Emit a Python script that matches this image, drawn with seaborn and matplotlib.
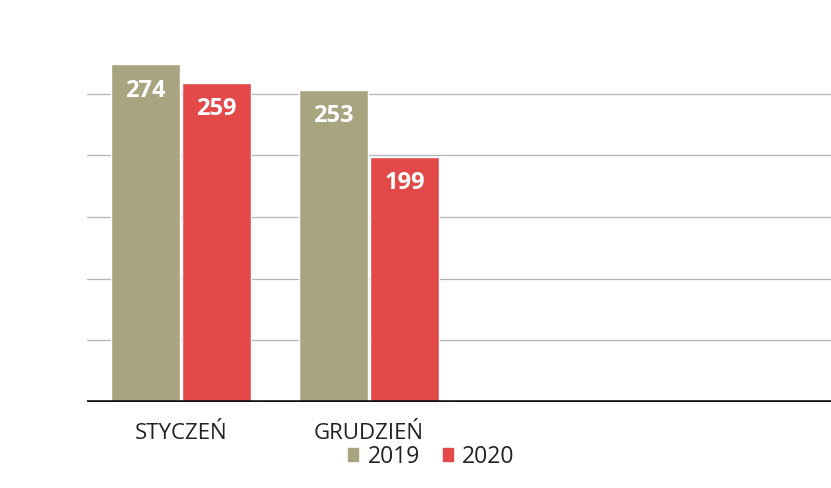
import pandas as pd
import matplotlib.pyplot as plt
import seaborn as sns
from matplotlib.patches import Patch

# Data
months = ["STYCZEŃ", "GRUDZIEŃ"]
years = ["2019", "2020"]
values_2019 = [274, 253]
values_2020 = [259, 199]
grid_levels = [50, 100, 150, 200, 250]

colors = {"2019": "#a8a47f", "2020": "#e4494a"}

df = pd.DataFrame({
    "month": months * 2,
    "year": [years[0]] * len(months) + [years[1]] * len(months),
    "value": values_2019 + values_2020,
})

sns.set_style("white")
plt.rcParams["font.family"] = ["Open Sans", "DejaVu Sans"]

fig = plt.figure(figsize=(8.31, 4.88), dpi=100)
ax = fig.add_axes([0.1047, 0.176, 0.8953, 0.824])

sns.barplot(data=df, x="month", y="value", hue="year", palette=colors,
            width=0.76, gap=0.04, saturation=1, legend=False, ax=ax, zorder=3)

# horizontal guide lines behind the bars
for lvl in grid_levels:
    ax.axhline(lvl, color="#b0b4b8", lw=0.9, zorder=1)
ax.axhline(0, color="#111111", lw=2.6, zorder=4)

ax.set_xlim(-0.5, 3.457)
ax.set_ylim(0, 326)

# value labels inside the top of each bar
for cont in ax.containers:
    for bar in cont:
        h = bar.get_height()
        ax.annotate(f"{h:.0f}", (bar.get_x() + bar.get_width() / 2, h),
                    xytext=(0, -19), textcoords="offset points",
                    ha="center", va="center", color="white",
                    fontsize=17, fontweight="bold", zorder=5)

sns.despine(ax=ax, left=True, bottom=True, top=True, right=True)
ax.set_yticks([])
ax.set_xlabel("")
ax.set_ylabel("")
ax.tick_params(axis="x", length=0, pad=15, labelsize=16, labelcolor="#222222")

handles = [Patch(color=colors[y], label=y) for y in years]
fig.legend(handles=handles, loc="center", bbox_to_anchor=(0.519, 0.064),
           ncol=2, frameon=False, fontsize=16.5, handlelength=0.45,
           handleheight=0.45, handletextpad=0.4, columnspacing=1.0,
           labelcolor="#222222")

fig.savefig("out.png", dpi=100)
